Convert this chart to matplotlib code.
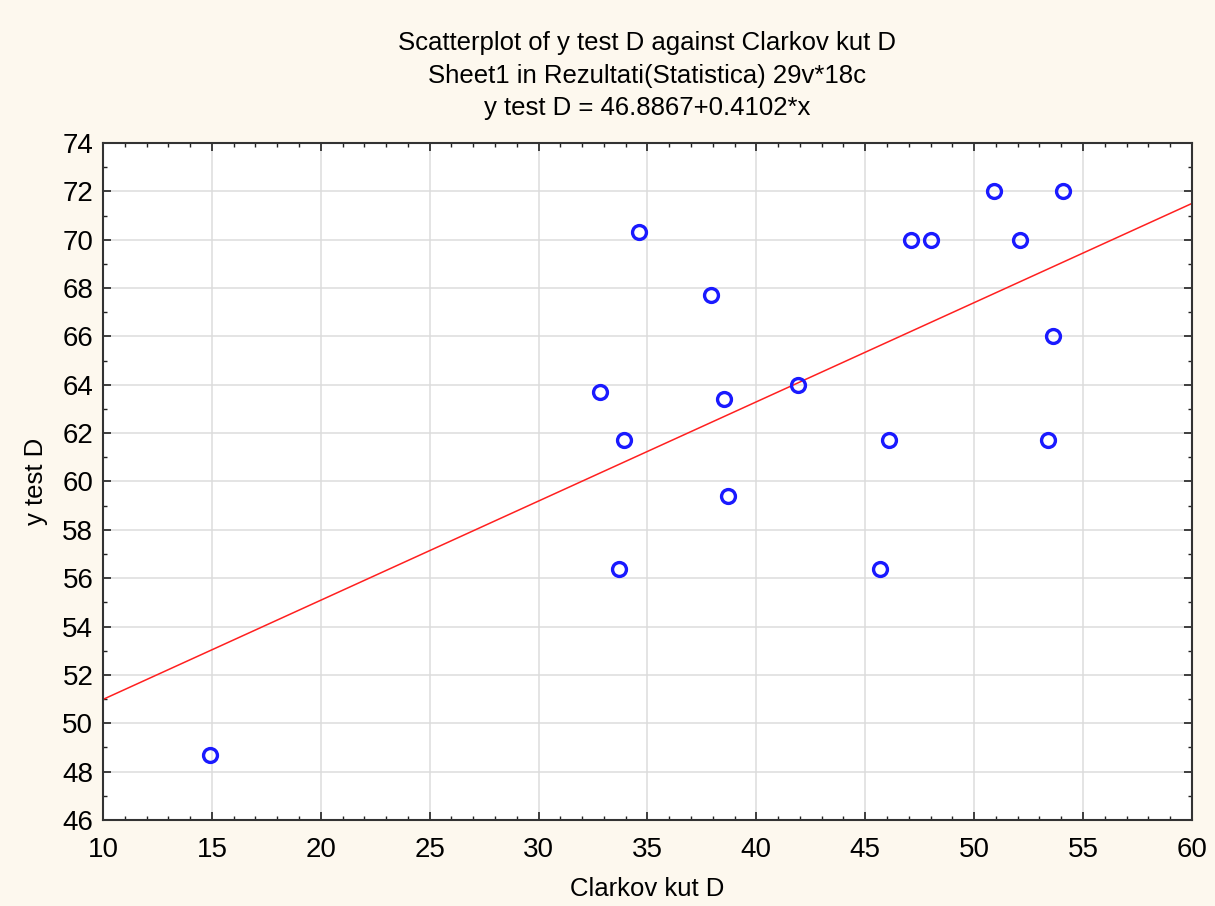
from matplotlib import pyplot as plt
from matplotlib.ticker import MultipleLocator
import numpy as np

# values
clarkov_kut = [14.9, 34.6, 37.9, 32.8, 33.9, 38.5, 38.7, 33.7, 41.9,
               46.1, 45.7, 47.1, 48.0, 50.9, 52.1, 54.1, 53.6, 53.4]
y_test = [48.7, 70.3, 67.7, 63.7, 61.7, 63.4, 59.4, 56.4, 64.0,
          61.7, 56.4, 70.0, 70.0, 72.0, 70.0, 72.0, 66.0, 61.7]
intercept = 46.8867
slope = 0.4102

plt.rcParams['font.family'] = ['Liberation Sans', 'DejaVu Sans']

fig = plt.figure(figsize=(12.15, 9.06), dpi=100)
fig.patch.set_facecolor('#fdf8ee')
ax = fig.add_axes([0.0848, 0.0949, 0.8962, 0.7473])
ax.set_facecolor('white')

ax.grid(True, color='#dcdcdc', linewidth=1.1, zorder=0)
ax.set_axisbelow(True)

x_line = np.array([10, 60])
ax.plot(x_line, intercept + slope * x_line, color='#ff2020', linewidth=1.1, zorder=2)
ax.plot(clarkov_kut, y_test, linestyle='none', marker='o', markersize=10,
        markerfacecolor='none', markeredgecolor='#1a1aff', markeredgewidth=2.4, zorder=3)

ax.set_xlim(10, 60)
ax.set_ylim(46, 74)
ax.xaxis.set_major_locator(MultipleLocator(5))
ax.xaxis.set_minor_locator(MultipleLocator(1))
ax.yaxis.set_major_locator(MultipleLocator(2))
ax.yaxis.set_minor_locator(MultipleLocator(1))
ax.tick_params(which='both', direction='in', top=True, right=True, color='#222222')
ax.tick_params(which='major', length=6, width=1.2, labelsize=20)
ax.tick_params(axis='x', which='major', pad=12)
ax.tick_params(axis='y', which='major', pad=7)
ax.tick_params(which='minor', length=3, width=1.0)
for s in ax.spines.values():
    s.set_linewidth(1.5)
    s.set_color('#333333')

ax.set_xlabel('Clarkov kut D', fontsize=18.5, labelpad=10)
ax.set_ylabel('y test D', fontsize=18.5, labelpad=10)
ax.set_title('Scatterplot of y test D against Clarkov kut D\n'
             'Sheet1 in Rezultati(Statistica) 29v*18c\n'
             'y test D = 46.8867+0.4102*x', fontsize=18.5, linespacing=1.45, pad=20)

fig.savefig('out.png', dpi=100, facecolor=fig.get_facecolor())
